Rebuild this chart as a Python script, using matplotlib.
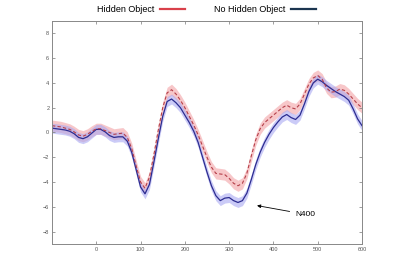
import matplotlib
matplotlib.use("Agg")
import matplotlib.pyplot as plt
import numpy as np
from matplotlib.lines import Line2D

plt.rcParams['font.family'] = ['Liberation Sans', 'DejaVu Sans']

time_ms = list(range(-100, 601, 10))

no_hidden = [0.35, 0.3, 0.25, 0.2, 0.1, -0.1, -0.4, -0.5, -0.35, -0.05,
             0.25, 0.25, 0.05, -0.25, -0.4, -0.35, -0.35, -0.7, -1.6, -3.0,
             -4.4, -4.95, -4.2, -2.4, -0.5, 1.3, 2.5, 2.7, 2.4, 2.0,
             1.4, 0.8, 0.1, -0.8, -2.0, -3.2, -4.3, -5.1, -5.5, -5.3,
             -5.25, -5.5, -5.65, -5.5, -4.9, -3.8, -2.6, -1.6, -0.8, -0.15,
             0.4, 0.85, 1.25, 1.45, 1.2, 1.05, 1.4, 2.3, 3.3, 4.0,
             4.3, 4.1, 3.8, 3.55, 3.3, 3.1, 2.9, 2.6, 1.9, 1.1, 0.55]

hidden = [0.55, 0.5, 0.45, 0.35, 0.25, 0.05, -0.2, -0.3, -0.15, 0.1,
          0.3, 0.3, 0.15, 0.0, -0.15, -0.1, -0.05, -0.4, -1.3, -2.7,
          -4.0, -4.5, -3.6, -1.8, 0.2, 2.0, 3.2, 3.45, 3.1, 2.6,
          2.0, 1.3, 0.6, -0.2, -1.1, -2.0, -2.8, -3.3, -3.35, -3.4,
          -3.7, -4.1, -4.3, -4.1, -3.3, -1.9, -0.6, 0.3, 0.8, 1.1,
          1.4, 1.7, 2.0, 2.2, 2.0, 1.9, 2.3, 3.1, 3.9, 4.4,
          4.6, 4.3, 3.6, 3.25, 3.3, 3.5, 3.4, 3.1, 2.7, 2.3, 2.0]

hidden_err = 0.45
no_hidden_err = 0.4

x_ticks = [0, 100, 200, 300, 400, 500, 600]
y_ticks = [-8, -6, -4, -2, 0, 2, 4, 6, 8]

t = np.array(time_ms)
b = np.array(no_hidden)
r = np.array(hidden)

fig = plt.figure(figsize=(4, 2.74), dpi=100)
ax = fig.add_axes([0.13, 0.1095, 0.775, 0.814])

ax.fill_between(t, r - hidden_err, r + hidden_err, color='#f4a9ad', alpha=0.65, lw=0)
ax.fill_between(t, b - no_hidden_err, b + no_hidden_err, color='#a9a9f2', alpha=0.6, lw=0)
ax.plot(t, b, color='#2c2c90', lw=0.9)
ax.plot(t, r, color='#b5404a', lw=0.8, ls=(0, (3, 2)))

ax.set_xlim(-100, 600)
ax.set_ylim(-9, 9)
ax.set_xticks(x_ticks)
ax.set_yticks(y_ticks)
ax.tick_params(direction='in', length=2.5, width=0.5, colors='#777777',
               labelsize=4, labelcolor='#555555', top=True, right=True, pad=2)
for s in ax.spines.values():
    s.set_color('#888888')
    s.set_linewidth(0.7)

ax.annotate('N400', xy=(363, -5.9), xytext=(449, -6.6), fontsize=6,
            va='center', ha='left',
            arrowprops=dict(arrowstyle='-|>', color='black', lw=0.6,
                            mutation_scale=5, shrinkA=2, shrinkB=0))

handles = [Line2D([], [], color='#d9404a', lw=1.6),
           Line2D([], [], color='#1b3550', lw=1.6)]
fig.legend(handles, ['Hidden Object', 'No Hidden Object'], loc='center',
           bbox_to_anchor=(0.516, 0.964), ncol=2, frameon=False,
           markerfirst=False, fontsize=6.5, handlelength=2.8,
           handletextpad=0.6, columnspacing=3.2)

fig.savefig('out.png', dpi=100)
